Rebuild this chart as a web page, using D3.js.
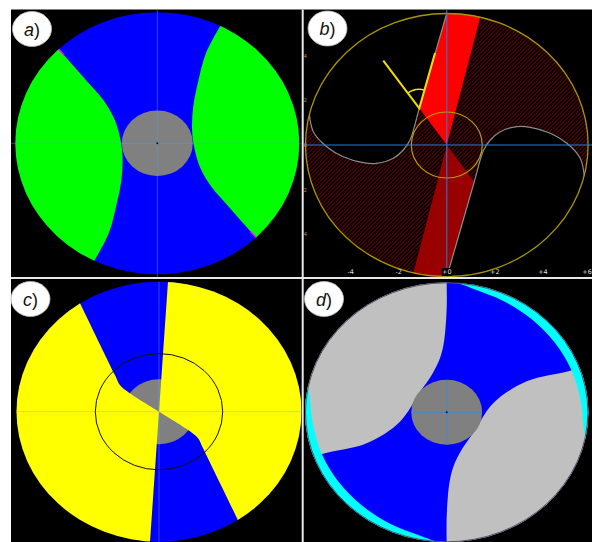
<!DOCTYPE html>
<html>
<head>
<meta charset="utf-8">
<script src="https://cdn.jsdelivr.net/npm/d3@7"></script>
<style>
  body { margin: 0; background: #fff; }
  svg { display: block; }
</style>
</head>
<body>
<script>
// all shapes are in unit-disc coordinates (x right, y up, outer rim = 1)
const panelLabels = ['a', 'b', 'c', 'd'];

// a) inner edge of the right green lens, top -> bottom (left lens is its point mirror)
const aLensEdge = [[0.44, 0.89], [0.34, 0.68], [0.285, 0.458], [0.252, 0.27], [0.245, 0.10],
                   [0.26, -0.03], [0.30, -0.18], [0.38, -0.33], [0.50, -0.48], [0.70, -0.725]];
const aMagenta = [[-0.70, 0.725], [-0.655, 0.672]];
const holeRadius = 0.25;

// b) left grey boundary, from the top of the rim down to the left rim
const bSCurve = [[0, 1], [-0.194, 0.278], [-0.2595, 0.038], [-0.307, -0.038], [-0.377, -0.101],
                 [-0.494, -0.139], [-0.589, -0.134], [-0.73, -0.089], [-0.847, -0.013],
                 [-0.941, 0.101], [-0.97, 0.24]];
const bBandTip = [0.234, 0.96];           // right corner of the bright red band on the rim
const bYellowArms = [[-0.083, 0.697], [-0.194, 0.278], [-0.448, 0.639]];
const bInnerRadius = 0.25;
const bTicks = [-4, -2, 0, 2, 4, 6];
const bSideTicks = [4, 2, 0, -2, -4];
const bRimUnits = 5.9;

// c) upper boundary of the left yellow part (rim -> centre) and the split line
const cBend = [[-0.554, 0.834], [-0.309, 0.282], [-0.274, 0.205], [-0.215, 0.149], [0, 0]];
const cSplit = [[0.065, 1.0], [-0.063, -1.0]];
const cRingRadius = 0.447;

// d) edge of the upper-left light grey lens, rim -> top
const dLensEdge = [[-0.939, -0.344], [-0.859, -0.315], [-0.565, -0.238], [-0.33, -0.072],
                   [-0.188, 0.158], [-0.106, 0.287], [-0.047, 0.418], [-0.019, 0.543],
                   [0, 0.802], [0, 1]];
// cyan rim: [angle in degrees, thickness], repeated at +180
const dCyanRim = [[-12, 0], [-6, 0.03], [5, 0.05], [20, 0.062], [35, 0.068], [50, 0.066],
                  [65, 0.055], [78, 0.035], [86, 0]];

const W = 592, H = 542;
const svg = d3.select('body').append('svg').attr('width', W).attr('height', H);
const defs = svg.append('defs');

svg.append('rect').attr('width', W).attr('height', H).attr('fill', '#fff');
svg.append('rect').attr('x', 11).attr('y', 9.5).attr('width', W - 11).attr('height', H - 9.5).attr('fill', '#000');

const mirror = pts => pts.map(p => [-p[0], -p[1]]);

function outerArc(from, to, dir)
{
  const a0 = Math.atan2(from[1], from[0]);
  let a1 = Math.atan2(to[1], to[0]);
  if (dir > 0) { while (a1 <= a0) a1 += 2 * Math.PI; }
  else { while (a1 >= a0) a1 -= 2 * Math.PI; }
  const n = Math.ceil(Math.abs(a1 - a0) / (Math.PI / 8));
  return d3.range(n + 1).map(i => {
    const a = a0 + (a1 - a0) * i / n;
    return [2 * Math.cos(a), 2 * Math.sin(a)];
  });
}

function makePanel(p)
{
  defs.append('clipPath').attr('id', 'clip-' + p.id).append('rect')
      .attr('x', p.x0).attr('y', p.y0).attr('width', p.x1 - p.x0).attr('height', p.y1 - p.y0);
  defs.append('clipPath').attr('id', 'disc-' + p.id).append('ellipse')
      .attr('cx', p.cx).attr('cy', p.cy).attr('rx', p.rx).attr('ry', p.ry);
  const g = svg.append('g').attr('clip-path', `url(#clip-${p.id})`);
  const base = g.append('g');
  const disc = g.append('g').attr('clip-path', `url(#disc-${p.id})`);
  const top = g.append('g');
  const x = d3.scaleLinear().domain([-1, 1]).range([p.cx - p.rx, p.cx + p.rx]);
  const y = d3.scaleLinear().domain([-1, 1]).range([p.cy + p.ry, p.cy - p.ry]);
  const smooth = d3.line().x(d => x(d[0])).y(d => y(d[1])).curve(d3.curveCatmullRom.alpha(0.5));
  const straight = d3.line().x(d => x(d[0])).y(d => y(d[1]));
  const region = (smoothPts, straightPts) => {
    let d = smoothPts.length ? smooth(smoothPts) : '';
    if (straightPts.length) {
      const s = straight(straightPts);
      d += d ? 'L' + s.slice(1) : s;
    }
    return d + 'Z';
  };
  return {p, g, base, disc, top, x, y, smooth, straight, region};
}

function discShape(P, fill)
{
  P.base.append('ellipse').attr('cx', P.p.cx).attr('cy', P.p.cy)
      .attr('rx', P.p.rx).attr('ry', P.p.ry).attr('fill', fill);
}

function hole(P, layer, r, fill)
{
  return layer.append('ellipse').attr('cx', P.x(0)).attr('cy', P.y(0))
      .attr('rx', P.x(r) - P.x(0)).attr('ry', P.y(0) - P.y(r)).attr('fill', fill);
}

function crossHair(P, layer, color, opacity)
{
  layer.append('line').attr('x1', P.p.x0).attr('x2', P.p.x1).attr('y1', P.y(0)).attr('y2', P.y(0))
      .attr('stroke', color).attr('stroke-opacity', opacity).attr('stroke-width', 1);
  layer.append('line').attr('x1', P.x(0)).attr('x2', P.x(0)).attr('y1', P.p.y0).attr('y2', P.p.y1)
      .attr('stroke', color).attr('stroke-opacity', opacity).attr('stroke-width', 1);
}

function centreDot(P)
{
  P.top.append('circle').attr('cx', P.x(0)).attr('cy', P.y(0)).attr('r', 1).attr('fill', '#111');
}

const layout = [
  {id: 'a', x0: 11, y0: 9.5, x1: 301.5, y1: 277, cx: 157.3, cy: 143.3, rx: 142, ry: 131, lx: 32, ly: 29},
  {id: 'b', x0: 304, y0: 9.5, x1: 592, y1: 277, cx: 446.8, cy: 145, rx: 141.8, ry: 132, lx: 327.5, ly: 28.5},
  {id: 'c', x0: 11, y0: 279, x1: 301.5, y1: 542, cx: 159, cy: 411.7, rx: 142.5, ry: 130, lx: 30.5, ly: 299},
  {id: 'd', x0: 304, y0: 279, x1: 592, y1: 542, cx: 446.7, cy: 412.3, rx: 141.7, ry: 130, lx: 324, ly: 299}
];

///////////////////////////////////////////////////////////////
// a)
{
  const P = makePanel(layout[0]);
  discShape(P, '#0000ff');
  [aLensEdge, mirror(aLensEdge)].forEach(edge => {
    const first = edge[0], last = edge[edge.length - 1];
    P.disc.append('path').attr('d', P.region(edge, outerArc(last, first, 1)))
        .attr('fill', '#00ff00');
  });
  [aMagenta, mirror(aMagenta)].forEach(seg => {
    P.disc.append('path').attr('d', P.straight(seg)).attr('stroke', '#ff00ff')
        .attr('stroke-width', 1.5).attr('fill', 'none');
  });
  hole(P, P.top, holeRadius, '#808080');
  crossHair(P, P.top, '#5aa0e0', 0.45);
  centreDot(P);
}

///////////////////////////////////////////////////////////////
// b)
{
  const P = makePanel(layout[1]);
  const right = mirror(bSCurve);                 // right grey boundary, bottom -> right rim
  const C = [0, 0], B = bSCurve[0], D = bSCurve[1];
  const rimR = right[right.length - 1];
  const hatchRight = P.region(right.slice(1), [...outerArc(rimR, bBandTip, 1), bBandTip, C]);
  const hatchLeft = P.region(mirror(right.slice(1)),
      [...outerArc(mirror([rimR])[0], mirror([bBandTip])[0], 1), mirror([bBandTip])[0], C]);

  // diagonal hatching, clipped to the two regions
  const hclip = defs.append('clipPath').attr('id', 'hatch-b');
  [hatchRight, hatchLeft].forEach(d => hclip.append('path').attr('d', d));
  const hatchG = P.disc.append('g').attr('clip-path', 'url(#hatch-b)');
  const span = P.p.y1 - P.p.y0;
  hatchG.selectAll('line').data(d3.range(P.p.x0 - span, P.p.x1, 4)).join('line')
      .attr('x1', d => d).attr('y1', P.p.y1).attr('x2', d => d + span).attr('y2', P.p.y0)
      .attr('stroke', '#8a0000').attr('stroke-width', 1);

  const band = [C, bBandTip, ...outerArc(bBandTip, B, 1), B, D];
  P.disc.append('path').attr('d', P.region([], band)).attr('fill', '#ff0000');
  P.disc.append('path').attr('d', P.region([], mirror(band))).attr('fill', '#990000');

  [bSCurve, right].forEach(c =>
      P.disc.append('path').attr('d', P.smooth(c)).attr('fill', 'none')
          .attr('stroke', '#8c8c8c').attr('stroke-width', 1.2));

  P.top.append('ellipse').attr('cx', P.p.cx).attr('cy', P.p.cy).attr('rx', P.p.rx - 0.5).attr('ry', P.p.ry - 0.5)
      .attr('fill', 'none').attr('stroke', '#a89600').attr('stroke-width', 1.3);
  P.top.append('ellipse').attr('cx', P.x(0)).attr('cy', P.y(0))
      .attr('rx', P.x(bInnerRadius) - P.x(0)).attr('ry', P.y(0) - P.y(bInnerRadius))
      .attr('fill', 'none').attr('stroke', '#b89c00').attr('stroke-width', 1.2);

  crossHair(P, P.top, '#1f7fe8', 1);

  // angle marker
  P.top.append('path').attr('d', P.straight(bYellowArms)).attr('fill', 'none')
      .attr('stroke', '#f0e000').attr('stroke-width', 2);
  const vx = P.x(bYellowArms[1][0]), vy = P.y(bYellowArms[1][1]);
  const ang = pt => Math.atan2(P.y(pt[1]) - vy, P.x(pt[0]) - vx);
  const arc = d3.path();
  arc.arc(vx, vy, 19, ang(bYellowArms[2]), ang(bYellowArms[0]), false);
  P.top.append('path').attr('d', arc.toString()).attr('fill', 'none')
      .attr('stroke', '#f0e000').attr('stroke-width', 1.5);

  // axis labels (bottom, and the clipped ones on the left edge)
  const u = d3.scaleLinear().domain([-bRimUnits, bRimUnits]).range([P.x(-1), P.x(1)]);
  const v = d3.scaleLinear().domain([-bRimUnits, bRimUnits]).range([P.y(-1), P.y(1)]);
  bTicks.forEach(t => {
    const g = svg.append('g').attr('transform', `translate(${Math.min(u(t), W - 5)},274)`);
    if (t === 0) g.append('rect').attr('x', -5).attr('y', -6).attr('width', 10).attr('height', 8).attr('fill', '#000');
    g.append('text').attr('text-anchor', 'middle').attr('font-family', 'DejaVu Sans')
        .attr('font-size', 6.5).attr('fill', '#ddd').text((t >= 0 ? '+' : '') + t);
  });
  P.top.selectAll('text.side').data(bSideTicks).join('text').attr('class', 'side')
      .attr('x', 307).attr('y', d => v(d) + 2).attr('text-anchor', 'end')
      .attr('font-family', 'DejaVu Sans').attr('font-size', 5.5).attr('fill', '#c08040')
      .text(d => (d >= 0 ? '+' : '') + d);
}

///////////////////////////////////////////////////////////////
// c)
{
  const P = makePanel(layout[2]);
  discShape(P, '#0000ff');
  hole(P, P.base, holeRadius, '#808080');
  const leftYellow = P.region(cBend, [cSplit[1], ...outerArc(cSplit[1], cBend[0], -1)]);
  const rightYellow = P.region(mirror(cBend), [mirror(cSplit)[1], ...outerArc(mirror(cSplit)[1], mirror(cBend)[0], -1)]);
  [leftYellow, rightYellow].forEach(d =>
      P.disc.append('path').attr('d', d).attr('fill', '#ffff00'));
  crossHair(P, P.disc, '#6fb0ff', 0.4);
  P.top.append('ellipse').attr('cx', P.x(0)).attr('cy', P.y(0))
      .attr('rx', P.x(cRingRadius) - P.x(0)).attr('ry', P.y(0) - P.y(cRingRadius))
      .attr('fill', 'none').attr('stroke', '#111').attr('stroke-width', 1);
}

///////////////////////////////////////////////////////////////
// d)
{
  const P = makePanel(layout[3]);
  discShape(P, '#0000ff');
  [dLensEdge, mirror(dLensEdge)].forEach(edge => {
    const first = edge[0], last = edge[edge.length - 1];
    P.disc.append('path').attr('d', P.region(edge, outerArc(last, first, 1)))
        .attr('fill', '#c0c0c0');
  });
  const rim = d3.areaRadial()
      .angle(d => (90 - d[0]) * Math.PI / 180)
      .innerRadius(d => 100 * (1 - d[1]))
      .outerRadius(103)
      .curve(d3.curveCatmullRom);
  const rimLayer = P.disc.append('g')
      .attr('transform', `translate(${P.p.cx},${P.p.cy}) scale(${P.p.rx / 100},${P.p.ry / 100})`);
  [dCyanRim, dCyanRim.map(d => [d[0] + 180, d[1]])].forEach(r =>
      rimLayer.append('path').attr('d', rim(r)).attr('fill', '#00ffff'));
  P.top.append('ellipse').attr('cx', P.p.cx).attr('cy', P.p.cy).attr('rx', P.p.rx - 0.5).attr('ry', P.p.ry - 0.5)
      .attr('fill', 'none').attr('stroke', '#555').attr('stroke-width', 1);
  hole(P, P.top, holeRadius, '#808080');
  defs.append('clipPath').attr('id', 'hole-d').call(c => hole(P, c, holeRadius, '#000'));
  const cross = P.top.append('g').attr('clip-path', 'url(#hole-d)');
  crossHair(P, cross, '#3a86d0', 0.9);
  centreDot(P);
}

///////////////////////////////////////////////////////////////
// dividers and panel labels
svg.append('line').attr('x1', 302.7).attr('x2', 302.7).attr('y1', 9.5).attr('y2', H)
    .attr('stroke', '#e8e8e8').attr('stroke-width', 2);
svg.append('line').attr('x1', 11).attr('x2', W).attr('y1', 278).attr('y2', 278)
    .attr('stroke', '#e8e8e8').attr('stroke-width', 2);

layout.forEach((p, i) => {
  const g = svg.append('g').attr('transform', `translate(${p.lx},${p.ly})`);
  g.append('ellipse').attr('rx', 19.5).attr('ry', 17.5).attr('fill', '#fff')
      .attr('stroke', '#bbb').attr('stroke-width', 0.8);
  const t = g.append('text').attr('text-anchor', 'middle').attr('y', 6.5)
      .attr('font-family', 'Liberation Sans, Arial, sans-serif').attr('font-size', 18).attr('fill', '#111');
  t.append('tspan').attr('font-style', 'italic').text(panelLabels[i]);
  t.append('tspan').text(')');
});
</script>
</body>
</html>
